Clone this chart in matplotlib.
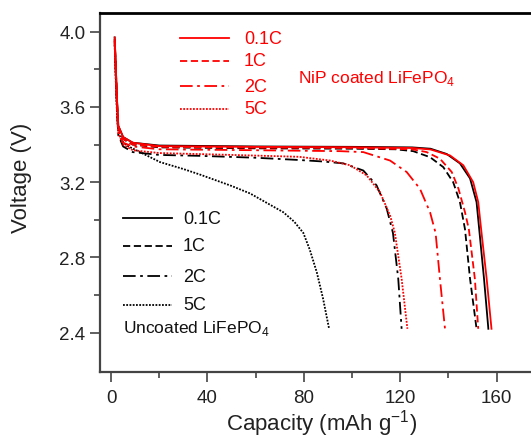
import matplotlib.pyplot as plt
import numpy as np

plt.rcParams['font.family'] = ['Liberation Sans', 'DejaVu Sans']

# Uncoated LiFePO4 (black)
cap_bare_01c = [1.5, 2.0, 2.5, 3.0, 5, 9, 20, 60, 100, 125, 132.6, 139.3, 144.8, 149, 151.7, 152.8, 154.8, 156.6]
v_bare_01c = [3.97, 3.80, 3.63, 3.50, 3.44, 3.41, 3.395, 3.39, 3.388, 3.385, 3.378, 3.35, 3.30, 3.22, 3.094, 2.95, 2.686, 2.42]
cap_bare_1c = [1.5, 2.0, 2.5, 3.0, 5, 9, 20, 60, 100, 118, 125.4, 132.4, 137.9, 142, 144.8, 146.9, 149, 151.7]
v_bare_1c = [3.96, 3.78, 3.61, 3.49, 3.43, 3.40, 3.385, 3.38, 3.378, 3.375, 3.365, 3.333, 3.28, 3.20, 3.094, 2.95, 2.686, 2.42]
cap_bare_2c = [1.5, 2.0, 2.5, 3.0, 5, 9, 20, 37, 60, 78, 88, 96.4, 104.7, 110.2, 114.4, 117, 119.2, 120.6]
v_bare_2c = [3.94, 3.75, 3.57, 3.45, 3.39, 3.36, 3.345, 3.34, 3.33, 3.318, 3.31, 3.30, 3.262, 3.183, 3.06, 2.93, 2.686, 2.42]
cap_bare_5c = [1.5, 2.0, 2.5, 3.0, 4.5, 6.5, 12, 20.3, 30, 37, 50, 57.7, 64.6, 71.5, 76, 79.8, 82.5, 85.4, 88, 90.5]
v_bare_5c = [3.93, 3.72, 3.55, 3.466, 3.42, 3.395, 3.36, 3.307, 3.27, 3.24, 3.18, 3.14, 3.09, 3.04, 2.99, 2.93, 2.84, 2.72, 2.58, 2.42]

# NiP coated LiFePO4 (red)
cap_nip_01c = [1.5, 2.0, 2.5, 3.0, 5, 9, 20, 60, 100, 125, 132.6, 140.7, 146.2, 150.3, 152.4, 153.6, 155.9, 157.9]
v_nip_01c = [3.97, 3.80, 3.63, 3.50, 3.44, 3.41, 3.392, 3.388, 3.386, 3.382, 3.374, 3.342, 3.29, 3.20, 3.094, 2.95, 2.686, 2.42]
cap_nip_1c = [1.5, 2.0, 2.5, 3.0, 5, 9, 20, 60, 100, 125, 131, 136.5, 141.4, 144.2, 146.9, 148.5, 151, 152.4]
v_nip_1c = [3.96, 3.79, 3.62, 3.49, 3.43, 3.40, 3.388, 3.384, 3.382, 3.375, 3.36, 3.325, 3.254, 3.165, 3.04, 2.95, 2.686, 2.42]
cap_nip_2c = [1.5, 2.0, 2.5, 3.0, 5, 9, 20, 60, 95, 104.7, 115.8, 122.7, 128.2, 132.4, 134.7, 136.5, 138.6]
v_nip_2c = [3.95, 3.77, 3.60, 3.47, 3.41, 3.39, 3.375, 3.37, 3.365, 3.36, 3.315, 3.254, 3.165, 3.04, 2.93, 2.686, 2.42]
cap_nip_5c = [1.5, 2.0, 2.5, 3.0, 5, 9, 20, 50, 78, 90.9, 99.2, 106.1, 111.6, 115.8, 117.8, 120.6, 123]
v_nip_5c = [3.95, 3.76, 3.58, 3.46, 3.40, 3.37, 3.355, 3.345, 3.335, 3.315, 3.29, 3.236, 3.147, 3.023, 2.93, 2.686, 2.42]

rates = ['0.1C', '1C', '2C', '5C']
styles = ['-', (0, (4, 2)), (0, (7, 2.5, 1.5, 2.5)), (0, (1, 0.8))]

fig = plt.figure(figsize=(5.31, 4.39), dpi=100)
ax = fig.add_axes([0.1883, 0.1503, 0.8117, 0.8178])

bare = [(cap_bare_01c, v_bare_01c), (cap_bare_1c, v_bare_1c),
        (cap_bare_2c, v_bare_2c), (cap_bare_5c, v_bare_5c)]
nip = [(cap_nip_01c, v_nip_01c), (cap_nip_1c, v_nip_1c),
       (cap_nip_2c, v_nip_2c), (cap_nip_5c, v_nip_5c)]

for (x, y), ls in zip(bare, styles):
    ax.plot(x, y, color='black', ls=ls, lw=1.3)
for (x, y), ls in zip(nip, styles):
    ax.plot(x, y, color='red', ls=ls, lw=1.3)

ax.set_xlim(-4.6, 174.3)
ax.set_ylim(2.19, 4.10)
ax.set_xticks([0, 40, 80, 120, 160])
ax.set_xticks([20, 60, 100, 140], minor=True)
ax.set_yticks([2.4, 2.8, 3.2, 3.6, 4.0])
ax.set_yticks([2.6, 3.0, 3.4, 3.8], minor=True)
ax.tick_params(axis='both', which='major', direction='out', length=7.5, width=1.2,
               labelsize=13.5, color='#444444', labelcolor='#222222')
ax.tick_params(axis='x', which='major', pad=5)
ax.tick_params(axis='y', which='major', pad=3)
ax.tick_params(axis='both', which='minor', direction='out', length=4, width=1.2,
               color='#444444')
ax.spines['right'].set_visible(False)
ax.spines['top'].set_linewidth(2)
ax.spines['top'].set_color('black')
for s in ['left', 'bottom']:
    ax.spines[s].set_linewidth(1.6)
    ax.spines[s].set_color('#444444')

ax.set_xlabel(r"Capacity (mAh g$^{\mathregular{-1}}$)", fontsize=16, color='#222222')
ax.set_ylabel("Voltage (V)", fontsize=16, color='#222222')
ax.xaxis.set_label_coords(0.515, -0.098)
ax.yaxis.set_label_coords(-0.157, 0.543)

# hand-drawn legends (figure pixel coordinates)
def px(x, y):
    return x / 531, 1 - y / 439

red_y = [39, 62, 87, 110]
for ls, lab, yy in zip(styles, rates, red_y):
    x0, y0 = px(180, yy)
    x1, _ = px(229, yy)
    fig.add_artist(plt.Line2D([x0, x1], [y0, y0], color='red', ls=ls, lw=1.3))
    fig.text(*px(244, yy), lab, color='red', fontsize=13, va='center')
fig.text(*px(298, 78), r"NiP coated LiFePO$_\mathregular{4}$", color='red', fontsize=12.5, va='center')

black_y = [219, 247, 277, 306]
for ls, lab, yy in zip(styles, rates, black_y):
    x0, y0 = px(123, yy)
    x1, _ = px(172, yy)
    fig.add_artist(plt.Line2D([x0, x1], [y0, y0], color='black', ls=ls, lw=1.3))
    fig.text(*px(183, yy), lab, color='#111111', fontsize=13, va='center')
fig.text(*px(123, 328), r"Uncoated LiFePO$_\mathregular{4}$", color='#111111', fontsize=12.5, va='center')

fig.savefig('out.png', dpi=100)
